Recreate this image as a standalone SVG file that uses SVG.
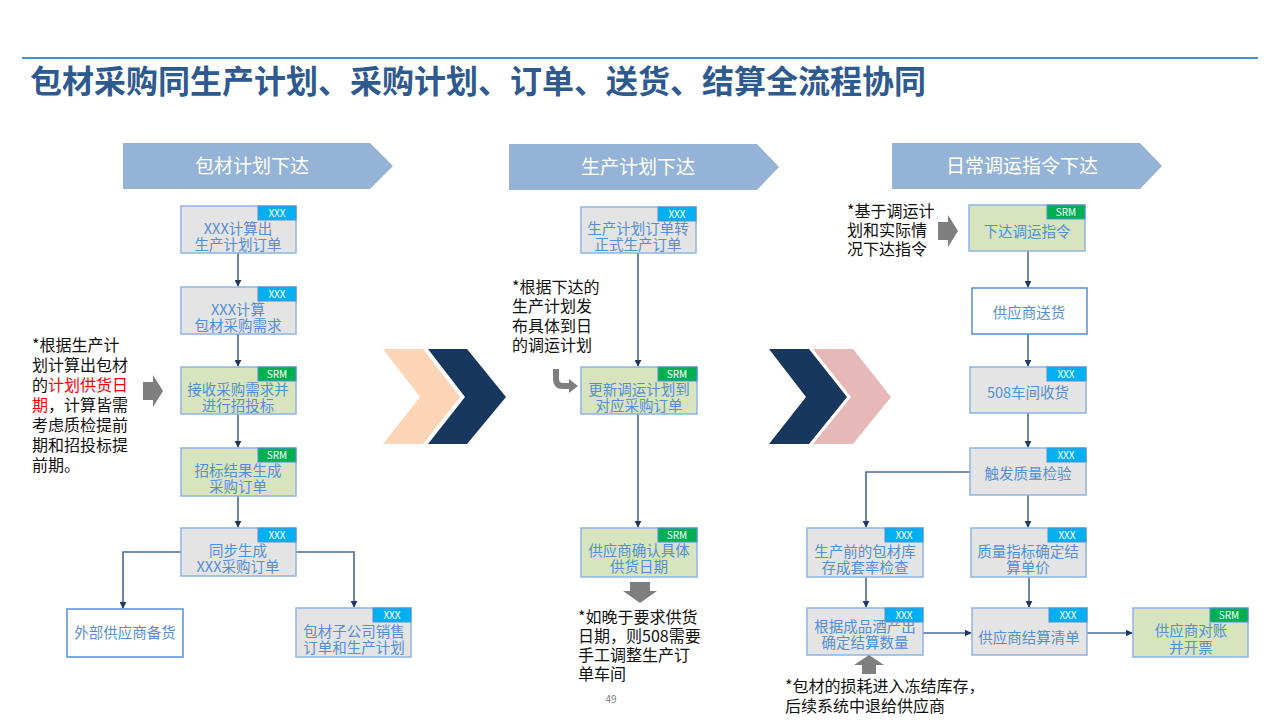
<svg xmlns="http://www.w3.org/2000/svg" width="1280" height="720" viewBox="0 0 1280 720">
<defs>
<style>
text{font-family:"Noto Sans CJK SC","Microsoft YaHei","Liberation Sans",sans-serif}
.title{font-size:32px;font-weight:bold;fill:#2F5A8F}
.hdr{fill:#95B3D7}
.hdrt{font-size:19px;fill:#fff;text-anchor:middle}
.box{stroke:#8EB4E3;stroke-width:1.5}
.g{fill:#E4E4E4}
.gr{fill:#D7E4BD}
.w{fill:#fff;stroke:#558ED5}
.nt{font-size:14.5px;fill:#558ED5;text-anchor:middle}
.tagx{fill:#00B0F0;stroke:#558ED5;stroke-width:1}
.tags{fill:#00B050;stroke:#558ED5;stroke-width:1}
.tt{font-size:10px;fill:#fff;text-anchor:middle}
.ann{font-size:16px;fill:#111}
.red{fill:#FF0000}
.con{fill:none;stroke:#4A6A96;stroke-width:1.6}
.garrow{fill:#7F7F7F}
</style>
<marker id="ah" viewBox="0 0 10 10" refX="9" refY="5" markerWidth="7" markerHeight="7" markerUnits="userSpaceOnUse" orient="auto">
<path d="M0,0 L10,5 L0,10 z" fill="#1F3864"/>
</marker>
</defs>
<rect width="1280" height="720" fill="#fff"/>
<line x1="22" y1="58" x2="1258" y2="58" stroke="#0070C0" stroke-width="1.5"/>
<text class="title" x="30" y="93">包材采购同生产计划、采购计划、订单、送货、结算全流程协同</text>

<g id="hdr1"><polygon class="hdr" points="123,143 370,143 393,166 370,189 123,189"/><text class="hdrt" x="252" y="173">包材计划下达</text></g>
<g id="hdr2"><polygon class="hdr" points="509,144 757,144 779,167 757,190 509,190"/><text class="hdrt" x="638" y="174">生产计划下达</text></g>
<g id="hdr3"><polygon class="hdr" points="892,143 1140,143 1162,166 1140,189 892,189"/><text class="hdrt" x="1022" y="173">日常调运指令下达</text></g>

<g id="chev-mid">
<polygon fill="#FBD5B5" points="383,349 423,349 460,397 423,444 383,444 420,397"/>
<polygon fill="#17375E" points="428,349 467,349 506,397 467,444 428,444 465,397"/>
</g>
<g id="chev-right">
<polygon fill="#17375E" points="769,349 809,349 847,397 809,444 769,444 806,397"/>
<polygon fill="#E6B9B8" points="813,349 853,349 891,397 853,444 813,444 851,397"/>
</g>

<g id="connectors">
<path class="con" d="M238,253 V286" marker-end="url(#ah)"/>
<path class="con" d="M238,334 V366" marker-end="url(#ah)"/>
<path class="con" d="M238,414 V447" marker-end="url(#ah)"/>
<path class="con" d="M238,496 V527" marker-end="url(#ah)"/>
<path class="con" d="M181,552 H123 V608" marker-end="url(#ah)"/>
<path class="con" d="M296,552 H354 V607" marker-end="url(#ah)"/>
<path class="con" d="M638,253 V366" marker-end="url(#ah)"/>
<path class="con" d="M638,414 V527" marker-end="url(#ah)"/>
<path class="con" d="M1028,251 V287" marker-end="url(#ah)"/>
<path class="con" d="M1028,334 V366" marker-end="url(#ah)"/>
<path class="con" d="M1028,413 V447" marker-end="url(#ah)"/>
<path class="con" d="M970,472 H866 V527" marker-end="url(#ah)"/>
<path class="con" d="M1028,495 V527" marker-end="url(#ah)"/>
<path class="con" d="M866,577 V607" marker-end="url(#ah)"/>
<path class="con" d="M1029,577 V607" marker-end="url(#ah)"/>
<path class="con" d="M923,633 H971" marker-end="url(#ah)"/>
<path class="con" d="M1087,633 H1132" marker-end="url(#ah)"/>
</g>

<g id="n1"><rect class="box g" x="181" y="206" width="115" height="47"/><rect class="tagx" x="258" y="206" width="38" height="14"/><text class="tt" x="277" y="216.5">XXX</text><text class="nt" x="238" y="233.5">XXX计算出</text><text class="nt" x="238" y="249.5">生产计划订单</text></g>
<g id="n2"><rect class="box g" x="181" y="287" width="115" height="47"/><rect class="tagx" x="258" y="287" width="38" height="14"/><text class="tt" x="277" y="297.5">XXX</text><text class="nt" x="238" y="314.5">XXX计算</text><text class="nt" x="238" y="330.5">包材采购需求</text></g>
<g id="n3"><rect class="box gr" x="181" y="367" width="115" height="47"/><rect class="tags" x="258" y="367" width="38" height="14"/><text class="tt" x="277" y="377.5">SRM</text><text class="nt" x="238" y="394.5">接收采购需求并</text><text class="nt" x="238" y="410.5">进行招投标</text></g>
<g id="n4"><rect class="box gr" x="181" y="448" width="115" height="48"/><rect class="tags" x="258" y="448" width="38" height="14"/><text class="tt" x="277" y="458.5">SRM</text><text class="nt" x="238" y="475.5">招标结果生成</text><text class="nt" x="238" y="491.5">采购订单</text></g>
<g id="n5"><rect class="box g" x="181" y="528" width="115" height="48"/><rect class="tagx" x="258" y="528" width="38" height="14"/><text class="tt" x="277" y="538.5">XXX</text><text class="nt" x="238" y="555.5">同步生成</text><text class="nt" x="238" y="571.5">XXX采购订单</text></g>
<g id="n6"><rect class="box w" x="67" y="609" width="116" height="48"/><text class="nt" x="125" y="638">外部供应商备货</text></g>
<g id="n7"><rect class="box g" x="296" y="608" width="115" height="49"/><rect class="tagx" x="373" y="608" width="38" height="14"/><text class="tt" x="392" y="618.5">XXX</text><text class="nt" x="354" y="636.5">包材子公司销售</text><text class="nt" x="354" y="653">订单和生产计划</text></g>

<g id="ann1">
<text class="ann" x="32" y="351">*根据生产计</text>
<text class="ann" x="32" y="371">划计算出包材</text>
<text class="ann" x="32" y="391">的<tspan class="red">计划供货日</tspan></text>
<text class="ann" x="32" y="411"><tspan class="red">期</tspan>，计算皆需</text>
<text class="ann" x="32" y="431">考虑质检提前</text>
<text class="ann" x="32" y="451">期和招投标提</text>
<text class="ann" x="32" y="471">前期。</text>
<polygon class="garrow" points="143,382 153,382 153,375 163,391 153,407 153,400 143,400"/>
</g>

<g id="m1"><rect class="box g" x="581" y="207" width="115" height="46"/><rect class="tagx" x="658" y="207" width="38" height="14"/><text class="tt" x="677" y="217.5">XXX</text><text class="nt" x="638" y="233.5">生产计划订单转</text><text class="nt" x="638" y="249.5">正式生产订单</text></g>
<g id="m2"><rect class="box gr" x="581" y="367" width="116" height="47"/><rect class="tags" x="658" y="367" width="39" height="14"/><text class="tt" x="677" y="377.5">SRM</text><text class="nt" x="639" y="394.5">更新调运计划到</text><text class="nt" x="639" y="410.5">对应采购订单</text></g>
<g id="m3"><rect class="box gr" x="581" y="528" width="116" height="49"/><rect class="tags" x="658" y="528" width="39" height="14"/><text class="tt" x="677" y="538.5">SRM</text><text class="nt" x="639" y="555.5">供应商确认具体</text><text class="nt" x="639" y="572">供货日期</text></g>

<g id="ann2">
<text class="ann" x="512" y="293">*根据下达的</text>
<text class="ann" x="512" y="312">生产计划发</text>
<text class="ann" x="512" y="332">布具体到日</text>
<text class="ann" x="512" y="351">的调运计划</text>
<path d="M556,369 V379 Q556,386 563,386 H570" fill="none" stroke="#7F7F7F" stroke-width="6"/>
<polygon class="garrow" points="569,379 578,386 569,393"/>
</g>

<g id="ann3">
<polygon class="garrow" points="630,582 650,582 650,591 657,591 640,603 623,591 630,591"/>
<text class="ann" x="578" y="623">*如晚于要求供货</text>
<text class="ann" x="578" y="642">日期，则508需要</text>
<text class="ann" x="578" y="661">手工调整生产订</text>
<text class="ann" x="578" y="680">单车间</text>
</g>

<g id="r1"><rect class="box gr" x="969" y="205" width="116" height="46"/><rect class="tags" x="1047" y="205" width="38" height="14"/><text class="tt" x="1066" y="215.5">SRM</text><text class="nt" x="1027" y="237">下达调运指令</text></g>
<g id="ann4">
<text class="ann" x="847" y="217">*基于调运计</text>
<text class="ann" x="847" y="236">划和实际情</text>
<text class="ann" x="847" y="255">况下达指令</text>
<polygon class="garrow" points="938,222 948,222 948,215 958,231 948,247 948,240 938,240"/>
</g>
<g id="r2"><rect class="box w" x="972" y="288" width="115" height="46"/><text class="nt" x="1029" y="318">供应商送货</text></g>
<g id="r3"><rect class="box g" x="970" y="367" width="116" height="46"/><rect class="tagx" x="1047" y="367" width="39" height="14"/><text class="tt" x="1066" y="377.5">XXX</text><text class="nt" x="1028" y="398">508车间收货</text></g>
<g id="r4"><rect class="box g" x="970" y="448" width="116" height="47"/><rect class="tagx" x="1047" y="448" width="39" height="14"/><text class="tt" x="1066" y="458.5">XXX</text><text class="nt" x="1028" y="479">触发质量检验</text></g>
<g id="r5"><rect class="box g" x="807" y="528" width="116" height="49"/><rect class="tagx" x="885" y="528" width="38" height="14"/><text class="tt" x="904" y="538.5">XXX</text><text class="nt" x="865" y="557">生产前的包材库</text><text class="nt" x="865" y="573">存成套率检查</text></g>
<g id="r6"><rect class="box g" x="971" y="528" width="115" height="49"/><rect class="tagx" x="1048" y="528" width="38" height="14"/><text class="tt" x="1067" y="538.5">XXX</text><text class="nt" x="1028" y="557">质量指标确定结</text><text class="nt" x="1028" y="573">算单价</text></g>
<g id="r7"><rect class="box g" x="807" y="608" width="116" height="47"/><rect class="tagx" x="885" y="608" width="38" height="14"/><text class="tt" x="904" y="618.5">XXX</text><text class="nt" x="865" y="632">根据成品酒产出</text><text class="nt" x="865" y="648">确定结算数量</text></g>
<g id="r8"><rect class="box g" x="972" y="608" width="115" height="47"/><rect class="tagx" x="1049" y="608" width="38" height="14"/><text class="tt" x="1068" y="618.5">XXX</text><text class="nt" x="1029" y="643">供应商结算清单</text></g>
<g id="r9"><rect class="box gr" x="1133" y="608" width="115" height="49"/><rect class="tags" x="1210" y="608" width="38" height="14"/><text class="tt" x="1229" y="618.5">SRM</text><text class="nt" x="1191" y="636">供应商对账</text><text class="nt" x="1191" y="653">并开票</text></g>
<g id="ann5">
<polygon class="garrow" points="869,655 884,665 876,665 876,674 862,674 862,665 854,665"/>
<text class="ann" x="785" y="692">*包材的损耗进入冻结库存，</text>
<text class="ann" x="785" y="712">后续系统中退给供应商</text>
</g>
<text x="611" y="703" font-size="10" fill="#7F7F7F" text-anchor="middle" font-family="Liberation Sans, sans-serif">49</text>
</svg>
